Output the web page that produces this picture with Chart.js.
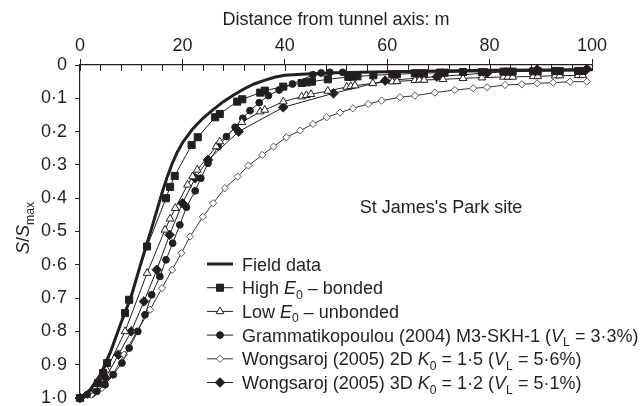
<!DOCTYPE html>
<html>
<head>
<meta charset="utf-8">
<script src="https://cdn.jsdelivr.net/npm/chart.js@4.4.1/dist/chart.umd.min.js"></script>
<style>
  html, body { margin: 0; padding: 0; background: #fff; }
</style>
</head>
<body>
<canvas id="settlement" width="644" height="406"></canvas>
<script>
// Normalised surface settlement troughs, St James's Park

const xTitle = 'Distance from tunnel axis: m';
const yTitle = '*S*/*S*_{max}';
const siteLabel = "St James's Park site";
const yTickLabels = ['0', '0·1', '0·2', '0·3', '0·4', '0·5', '0·6', '0·7', '0·8', '0·9', '1·0'];

const legendLabels = [
  'Field data',
  'High *E*_0 – bonded',
  'Low *E*_0 – unbonded',
  'Grammatikopoulou (2004) M3-SKH-1 (*V*_L = 3·3%)',
  'Wongsaroj (2005) 2D *K*_0 = 1·5 (*V*_L = 5·6%)',
  'Wongsaroj (2005) 3D *K*_0 = 1·2 (*V*_L = 5·1%)'
];

// field data
const fieldX = [0, 2, 4, 6, 8, 10, 12, 14, 16, 17, 18, 19, 20, 22, 24, 26, 28, 30, 32, 34, 36, 38, 40, 45, 50, 60, 70, 80, 90, 100];
const fieldY = [1.0, 0.975, 0.93, 0.86, 0.775, 0.695, 0.59, 0.49, 0.385, 0.338, 0.296, 0.262, 0.234, 0.192, 0.16, 0.134, 0.11, 0.09, 0.072, 0.057, 0.046, 0.037, 0.031, 0.026, 0.023, 0.02, 0.018, 0.016, 0.015, 0.014];

// high E0 - bonded
const highX = [0, 3.5, 4.5, 5.3, 8.8, 9.6, 13.1, 16.8, 17.6, 18.5, 21.8, 23.0, 26.4, 27.3, 30.7, 31.7, 35.2, 36.1, 39.7, 43.3, 44.3, 45.3, 48.4, 52.4, 53.3, 54.2, 57.3, 61.0, 61.9, 65.4, 66.3, 67.2, 70.3, 71.2, 74.8, 78.5, 82.7, 83.6, 84.5, 88.5, 89.4, 92.8, 93.7, 97.3, 98.2];
const highY = [1.0, 0.955, 0.925, 0.895, 0.745, 0.705, 0.545, 0.40, 0.366, 0.333, 0.24, 0.217, 0.157, 0.147, 0.11, 0.103, 0.083, 0.077, 0.065, 0.054, 0.052, 0.05, 0.043, 0.036, 0.035, 0.034, 0.031, 0.028, 0.028, 0.025, 0.025, 0.025, 0.023, 0.023, 0.021, 0.021, 0.02, 0.02, 0.02, 0.019, 0.019, 0.018, 0.018, 0.018, 0.018];

// low E0 - unbonded
const lowX = [0, 3.3, 5.2, 8.8, 13.1, 16.6, 17.6, 18.6, 21.0, 22.0, 22.9, 26.6, 27.3, 31.6, 35.2, 36.1, 39.7, 43.3, 44.2, 45.1, 48.4, 52.1, 52.9, 53.7, 57.2, 61.0, 61.9, 65.4, 66.3, 67.2, 70.9, 74.8, 78.5, 82.7, 83.6, 84.5, 88.5, 89.4, 92.8, 93.7, 97.3, 98.2];
const lowY = [1.0, 0.955, 0.915, 0.80, 0.625, 0.495, 0.462, 0.43, 0.36, 0.335, 0.315, 0.245, 0.23, 0.172, 0.14, 0.135, 0.11, 0.095, 0.091, 0.088, 0.078, 0.066, 0.064, 0.062, 0.055, 0.05, 0.049, 0.046, 0.045, 0.045, 0.043, 0.04, 0.038, 0.036, 0.036, 0.036, 0.034, 0.034, 0.032, 0.032, 0.031, 0.031];

// Grammatikopoulou (2004)
const grammX = [0, 1.4, 3.3, 4.9, 6.5, 8.2, 9.6, 11.3, 12.7, 14.0, 15.6, 16.8, 18.1, 19.5, 20.8, 22.5, 23.6, 25.0, 27.0, 28.6, 30.3, 31.8, 33.2, 35.0, 36.8, 38.9, 41.5, 45.5, 47.1, 48.8, 51.3];
const grammY = [1.0, 0.99, 0.98, 0.96, 0.93, 0.895, 0.85, 0.80, 0.75, 0.69, 0.635, 0.585, 0.535, 0.48, 0.427, 0.378, 0.34, 0.295, 0.245, 0.215, 0.187, 0.16, 0.137, 0.113, 0.092, 0.075, 0.057, 0.029, 0.024, 0.022, 0.022];

// Wongsaroj (2005) 2D
const w2dX = [0, 2.2, 4.3, 6.4, 8.6, 11.1, 13.7, 16.0, 18.0, 19.8, 21.5, 24.0, 26.0, 28.3, 30.8, 32.9, 35.6, 37.8, 40.3, 43.0, 45.5, 48.2, 50.8, 53.3, 56.3, 58.9, 62.5, 65.4, 69.3, 73.2, 76.8, 79.5, 83.0, 86.3, 89.3, 92.4, 95.7, 99.0];
const w2dY = [1.0, 0.99, 0.97, 0.93, 0.87, 0.80, 0.735, 0.67, 0.615, 0.565, 0.515, 0.456, 0.415, 0.37, 0.335, 0.302, 0.27, 0.245, 0.217, 0.197, 0.177, 0.157, 0.143, 0.13, 0.117, 0.107, 0.097, 0.092, 0.083, 0.075, 0.07, 0.067, 0.06, 0.058, 0.055, 0.053, 0.05, 0.05];

// Wongsaroj (2005) 3D
const w3dX = [0, 2.5, 5.0, 7.5, 10.0, 12.5, 15.0, 17.5, 20.0, 22.5, 25.0, 31.0, 39.7, 49.5, 59.6, 69.7, 79.5, 89.3, 99.0];
const w3dY = [1.0, 0.985, 0.94, 0.87, 0.80, 0.71, 0.615, 0.51, 0.415, 0.34, 0.285, 0.20, 0.127, 0.085, 0.047, 0.035, 0.024, 0.014, 0.012];

const FONT = '"Liberation Sans", Arial, sans-serif';
const INK = '#231f20';

function pts(xs, ys) {
  return xs.map((x, i) => ({ x: x, y: ys[i] }));
}

function series(xs, ys, style) {
  return Object.assign({
    data: pts(xs, ys),
    borderColor: INK,
    borderWidth: 1,
    pointBorderColor: INK,
    pointBackgroundColor: INK,
    pointBorderWidth: 1,
    tension: 0,
    clip: false
  }, style);
}

// little rich-text helper: *x* = italic, _x or _{xx} = subscript
function parseRich(str) {
  return str.split(/(\*[^*]+\*|_\{[^}]+\}|_\S)/).filter(s => s).map(s => {
    if (s[0] === '*') return { text: s.slice(1, -1), italic: true };
    if (s[0] === '_') return { text: s[1] === '{' ? s.slice(2, -1) : s.slice(1), sub: true };
    return { text: s };
  });
}
function segFont(seg, size) {
  const fs = seg.sub ? size * 0.68 : size;
  return (seg.italic ? 'italic ' : '') + fs + 'px ' + FONT;
}
function richWidth(ctx, str, size) {
  let w = 0;
  parseRich(str).forEach(seg => { ctx.font = segFont(seg, size); w += ctx.measureText(seg.text).width; });
  return w;
}
function drawRich(ctx, str, x, y, size) {
  parseRich(str).forEach(seg => {
    ctx.font = segFont(seg, size);
    ctx.fillText(seg.text, x, seg.sub ? y + size * 0.25 : y);
    x += ctx.measureText(seg.text).width;
  });
}

const decor = {
  id: 'decor',
  afterDraw(chart) {
    const ctx = chart.ctx;
    const xs = chart.scales.x;
    const area = chart.chartArea;
    ctx.save();

    // inward ticks along the top axis
    ctx.strokeStyle = INK;
    ctx.lineWidth = 1;
    for (let v = 0; v <= 100; v += 4) {
      const px = Math.round(xs.getPixelForValue(v)) + 0.5;
      ctx.beginPath();
      ctx.moveTo(px, area.top);
      ctx.lineTo(px, area.top + 6);
      ctx.stroke();
    }

    // y axis title
    ctx.fillStyle = INK;
    ctx.textBaseline = 'alphabetic';
    ctx.textAlign = 'left';
    ctx.translate(29, 228);
    ctx.rotate(-Math.PI / 2);
    drawRich(ctx, yTitle, -richWidth(ctx, yTitle, 18) / 2, 0, 18);
    ctx.setTransform(1, 0, 0, 1, 0, 0);

    // site label
    ctx.font = '18px ' + FONT;
    ctx.textAlign = 'center';
    ctx.fillText(siteLabel, 441, 213);

    // legend
    ctx.textAlign = 'left';
    legendLabels.forEach((lab, i) => {
      const ds = chart.data.datasets[i];
      const y = 264 + i * 23.7;
      ctx.strokeStyle = ds.borderColor;
      ctx.lineWidth = ds.borderWidth;
      ctx.beginPath();
      ctx.moveTo(207, y);
      ctx.lineTo(233, y);
      ctx.stroke();
      if (ds.pointRadius > 0) {
        ctx.fillStyle = ds.pointBackgroundColor;
        ctx.strokeStyle = ds.pointBorderColor;
        ctx.lineWidth = ds.pointBorderWidth;
        Chart.helpers.drawPoint(ctx, {
          pointStyle: ds.pointStyle, radius: ds.pointRadius,
          rotation: 0, borderWidth: ds.pointBorderWidth
        }, 220, y);
      }
      ctx.fillStyle = INK;
      drawRich(ctx, lab, 242, y + 6.5, 18);
    });
    ctx.restore();
  }
};

new Chart(document.getElementById('settlement'), {
  type: 'line',
  data: {
    datasets: [
      series(fieldX, fieldY, { borderWidth: 3, pointRadius: 0 }),
      series(highX, highY, { pointStyle: 'rect', pointRadius: 5 }),
      series(lowX, lowY, { pointStyle: 'triangle', pointRadius: 4.5, pointBackgroundColor: '#fff' }),
      series(grammX, grammY, { pointStyle: 'circle', pointRadius: 3.4 }),
      series(w2dX, w2dY, { pointStyle: 'rectRot', pointRadius: 3.6, pointBackgroundColor: '#fff',
        pointBorderColor: '#555', borderColor: '#333' }),
      series(w3dX, w3dY, { pointStyle: 'rectRot', pointRadius: 4.8 })
    ]
  },
  options: {
    responsive: false,
    animation: false,
    events: [],
    layout: { padding: { left: 0, right: 52, top: 0, bottom: 8 } },
    scales: {
      x: {
        type: 'linear',
        position: 'top',
        min: 0,
        max: 100,
        ticks: { stepSize: 20, color: INK, font: { family: FONT, size: 18 }, padding: 2 },
        grid: { drawOnChartArea: false, tickLength: 6, color: INK },
        border: { color: INK, width: 1.2 },
        title: { display: true, text: xTitle, color: INK, font: { family: FONT, size: 18 }, padding: { top: 9, bottom: 0 } },
        afterFit(scale) { scale.height = 65; scale.paddingRight = 0; scale.paddingLeft = 0; }
      },
      y: {
        type: 'linear',
        reverse: true,
        min: 0,
        max: 1,
        ticks: {
          stepSize: 0.1,
          color: INK,
          font: { family: FONT, size: 18 },
          padding: 8,
          callback: v => yTickLabels[Math.round(v * 10)]
        },
        grid: { drawOnChartArea: false, tickLength: 5, color: INK },
        border: { color: INK, width: 1.2 },
        afterFit(scale) { scale.width = 80; scale.paddingTop = 0; scale.paddingBottom = 0; }
      }
    },
    plugins: {
      legend: { display: false },
      tooltip: { enabled: false }
    }
  },
  plugins: [decor]
});
</script>
</body>
</html>
